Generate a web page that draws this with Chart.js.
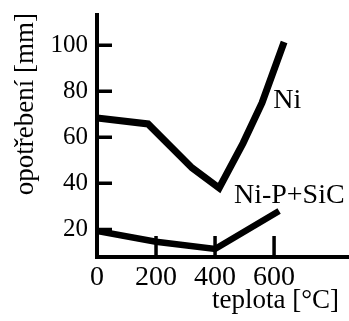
<!DOCTYPE html>
<html>
<head>
<meta charset="utf-8">
<script src="https://cdn.jsdelivr.net/npm/chart.js@4/dist/chart.umd.min.js"></script>
<style>
  html, body { margin: 0; padding: 0; background: #fff; }
  #wrap { width: 349px; height: 321px; }
</style>
</head>
<body>
<div id="wrap"><canvas id="c" width="349" height="321"></canvas></div>
<script>
// Wear (opotřebení) versus temperature for two coatings
const niTemp = [0, 173, 322, 414, 495, 559, 634];
const niWear = [68.4, 65.8, 46.7, 38.0, 57.5, 74.9, 101.4];

const sicTemp = [0, 200, 400, 617];
const sicWear = [19.3, 14.6, 11.5, 28.0];

const xTicks = [0, 200, 400, 600];
const yTicks = [20, 40, 60, 80, 100];

const seriesNames = ['Ni', 'Ni-P+SiC'];
// where each series name is written, in data units (temperature, wear)
const nameAnchors = [[597, 72.7], [464, 31.5]];

const SERIF = '"Liberation Serif", "DejaVu Serif", serif';

const toPoints = (xs, ys) => xs.map((x, i) => ({ x, y: ys[i] }));

// Axis lines with inward ticks, and the series names
const axesAndNames = {
  id: 'axesAndNames',
  beforeDatasetsDraw(chart) {
    const { ctx, chartArea: a, scales: { x, y } } = chart;
    ctx.save();
    ctx.strokeStyle = '#000';
    ctx.lineCap = 'butt';
    ctx.lineWidth = 4;
    ctx.beginPath();
    ctx.moveTo(a.left, a.top);
    ctx.lineTo(a.left, a.bottom + 2);
    ctx.moveTo(a.left - 2, a.bottom);
    ctx.lineTo(chart.width, a.bottom);
    ctx.stroke();
    ctx.lineWidth = 3.5;
    ctx.beginPath();
    yTicks.forEach(v => {
      const py = y.getPixelForValue(v);
      ctx.moveTo(a.left, py);
      ctx.lineTo(a.left + 15, py);
    });
    xTicks.forEach(v => {
      if (v === x.min) return;
      const px = x.getPixelForValue(v);
      ctx.moveTo(px, a.bottom);
      ctx.lineTo(px, a.bottom - 21);
    });
    ctx.stroke();
    ctx.restore();
  },
  afterDatasetsDraw(chart) {
    const { ctx, scales: { x, y } } = chart;
    ctx.save();
    ctx.fillStyle = '#000';
    ctx.font = '28px ' + SERIF;
    ctx.textAlign = 'left';
    ctx.textBaseline = 'alphabetic';
    seriesNames.forEach((name, i) => {
      const [tx, wy] = nameAnchors[i];
      ctx.fillText(name, x.getPixelForValue(tx), y.getPixelForValue(wy));
    });
    ctx.restore();
  }
};

new Chart(document.getElementById('c'), {
  type: 'line',
  data: {
    datasets: [
      {
        label: seriesNames[0],
        data: toPoints(niTemp, niWear),
        borderColor: '#000',
        borderWidth: 7,
        borderJoinStyle: 'miter',
        borderCapStyle: 'butt',
        pointRadius: 0,
        tension: 0,
        fill: false
      },
      {
        label: seriesNames[1],
        data: toPoints(sicTemp, sicWear),
        borderColor: '#000',
        borderWidth: 6.5,
        borderJoinStyle: 'miter',
        borderCapStyle: 'butt',
        pointRadius: 0,
        tension: 0,
        fill: false
      }
    ]
  },
  options: {
    responsive: false,
    animation: false,
    events: [],
    layout: { padding: { top: 13, right: 10, left: 0, bottom: 0 } },
    plugins: {
      legend: { display: false },
      tooltip: { enabled: false }
    },
    scales: {
      x: {
        type: 'linear',
        min: 0,
        max: 820,
        afterBuildTicks: s => { s.ticks = xTicks.map(v => ({ value: v })); },
        afterFit: s => { s.height = 64; s.paddingLeft = 0; s.paddingRight = 0; },
        grid: { display: false, drawTicks: false },
        border: { display: false },
        ticks: {
          color: '#000',
          padding: 4,
          maxRotation: 0,
          autoSkip: false,
          font: { family: SERIF, size: 28 }
        },
        title: {
          display: true,
          text: 'teplota [°C]',
          align: 'end',
          color: '#000',
          padding: 4,
          font: { family: SERIF, size: 27 }
        }
      },
      y: {
        type: 'linear',
        min: 8,
        max: 114,
        afterBuildTicks: s => { s.ticks = yTicks.map(v => ({ value: v })); },
        afterFit: s => { s.width = 97; s.paddingTop = 0; s.paddingBottom = 0; },
        grid: { display: false, drawTicks: false },
        border: { display: false },
        ticks: {
          color: '#000',
          padding: 9,
          autoSkip: false,
          font: { family: SERIF, size: 25 }
        },
        title: {
          display: true,
          text: 'opotřebení [mm]',
          align: 'end',
          color: '#000',
          padding: { top: 10, bottom: 0 },
          font: { family: SERIF, size: 27 }
        }
      }
    }
  },
  plugins: [axesAndNames]
});
</script>
</body>
</html>
